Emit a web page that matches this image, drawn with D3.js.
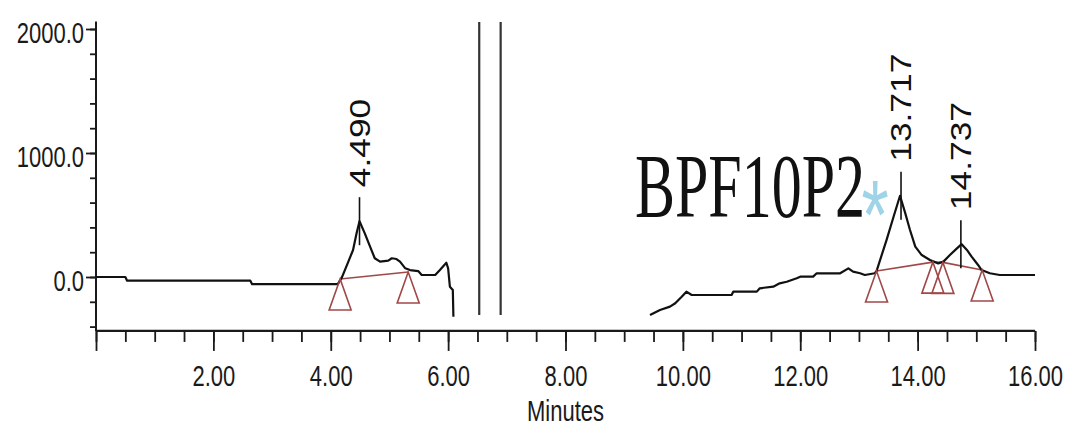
<!DOCTYPE html>
<html>
<head>
<meta charset="utf-8">
<script src="https://cdn.jsdelivr.net/npm/d3@7"></script>
<style>
  html, body { margin: 0; padding: 0; background: #fff; }
  svg { display: block; }
</style>
</head>
<body>
<svg id="chart" width="1068" height="430"></svg>
<script>
// ---- data ----
const trace1 = [
  [0, 0], [0.5, 0], [0.53, -30], [2.63, -30], [2.66, -58], [4.12, -58],
  [4.19, -3], [4.30, 124], [4.38, 218], [4.44, 352], [4.49, 450], [4.58, 352],
  [4.67, 245], [4.75, 151], [4.84, 124], [4.98, 132], [5.04, 151], [5.12, 145],
  [5.18, 124], [5.27, 70], [5.35, 56], [5.49, 48], [5.55, 16], [5.78, 16],
  [5.86, 56], [5.97, 115], [6.00, 70], [6.03, -78], [6.08, -105], [6.09, -320]
];
const trace2 = [
  [9.44, -306], [9.61, -266], [9.78, -239], [9.87, -212], [9.98, -159], [10.06, -118],
  [10.15, -145], [10.83, -145], [10.86, -118], [11.26, -118], [11.31, -91], [11.54, -78],
  [11.65, -51], [11.77, -38], [11.94, -10], [12.0, 3], [12.22, 3], [12.28, 30],
  [12.68, 30], [12.82, 70], [12.90, 43], [13.02, 30], [13.10, 16], [13.27, 30],
  [13.30, 48], [13.47, 298], [13.59, 486], [13.70, 655], [13.79, 513], [13.87, 379],
  [13.96, 245], [14.07, 177], [14.21, 137], [14.35, 110], [14.44, 124], [14.55, 177],
  [14.67, 231], [14.75, 265], [14.84, 218], [14.92, 164], [15.03, 97], [15.09, 56],
  [15.23, 30], [15.40, 16], [16.0, 16]
];
const peakTimes  = [4.490, 13.717, 14.737];
const peakValues = [450, 655, 265];
const peakLabels = ["4.490", "13.717", "14.737"];
const markerTimes  = [4.16, 5.32, 13.30, 14.26, 14.43, 15.10];
const markerValues = [-16, 40, 48, 120, 118, 56];
const baselineSegments = [[0, 1], [2, 3], [3, 4], [4, 5]];
const eventTimes = [6.53, 6.895];
const eventRange = [-306, 2056];
const xMajorTicks = [0, 2, 4, 6, 8, 10, 12, 14, 16];
const xTickLabels = ["", "2.00", "4.00", "6.00", "8.00", "10.00", "12.00", "14.00", "16.00"];
const yMajorTicks = [0, 1000, 2000];
const yTickLabels = ["0.0", "1000.0", "2000.0"];
const sampleName = "BPF10P2";
const xTitle = "Minutes";

// ---- layout ----
const svg = d3.select("#chart");
const x = d3.scaleLinear().domain([0, 16]).range([96, 1035]);
const y = d3.scaleLinear().domain([0, 2000]).range([277, 29]);
const yBottom = -435;
const ink = "#1a1a1a";
const red = "#a04848";

// y axis
const yAxisG = svg.append("g").attr("transform", `translate(${x(0)},0)`);
yAxisG.append("line")
  .attr("x1", 0).attr("x2", 0).attr("y1", y(2060)).attr("y2", y(yBottom))
  .attr("stroke", ink).attr("stroke-width", 2);
yAxisG.call(g => {
  const minor = d3.axisLeft(y).tickValues(d3.range(-400, 2001, 200)).tickSize(6).tickFormat("");
  g.append("g").call(minor);
  const major = d3.axisLeft(y).tickValues(yMajorTicks).tickSize(10)
    .tickFormat((d, i) => yTickLabels[i]);
  g.append("g").attr("class", "ymaj").call(major);
});
yAxisG.selectAll(".domain").remove();
yAxisG.selectAll(".tick line").attr("stroke", ink).attr("stroke-width", 1.8);
yAxisG.selectAll(".ymaj text")
  .attr("x", null).attr("y", null).attr("dy", null)
  .attr("transform", "translate(-12,13) scale(1,1.3)")
  .attr("text-anchor", "end")
  .attr("fill", ink)
  .style("font-family", "'Liberation Sans', Arial, sans-serif")
  .style("font-size", "22px");

// x axis
const xAxisG = svg.append("g").attr("transform", `translate(0,${y(yBottom)})`);
xAxisG.append("line")
  .attr("x1", x(0)).attr("x2", x(16)).attr("y1", 0).attr("y2", 0)
  .attr("stroke", ink).attr("stroke-width", 2.2);
xAxisG.append("g").call(d3.axisBottom(x).tickValues(d3.range(0, 16.01, 0.5)).tickSize(11).tickFormat(""));
xAxisG.append("g").attr("class", "xmaj")
  .call(d3.axisBottom(x).tickValues(xMajorTicks).tickSize(20).tickFormat((d, i) => xTickLabels[i]));
xAxisG.selectAll(".domain").remove();
xAxisG.selectAll(".tick line").attr("stroke", ink).attr("stroke-width", 1.8);
xAxisG.selectAll(".xmaj text")
  .attr("y", null).attr("dy", null)
  .attr("transform", "translate(0,55) scale(1,1.3)")
  .attr("fill", ink)
  .style("font-family", "'Liberation Sans', Arial, sans-serif")
  .style("font-size", "22px");

svg.append("text")
  .attr("transform", `translate(${(x(0) + x(16)) / 2},421) scale(1,1.3)`)
  .attr("text-anchor", "middle")
  .attr("fill", ink)
  .style("font-family", "'Liberation Sans', Arial, sans-serif")
  .style("font-size", "22px")
  .text(xTitle);

// event lines
svg.selectAll(".event").data(eventTimes).join("line")
  .attr("class", "event")
  .attr("x1", d => x(d)).attr("x2", d => x(d))
  .attr("y1", y(eventRange[1])).attr("y2", y(eventRange[0]))
  .attr("stroke", "#333").attr("stroke-width", 2.2);

// baselines (red)
svg.selectAll(".bl").data(baselineSegments).join("line")
  .attr("class", "bl")
  .attr("x1", d => x(markerTimes[d[0]])).attr("y1", d => y(markerValues[d[0]]))
  .attr("x2", d => x(markerTimes[d[1]])).attr("y2", d => y(markerValues[d[1]]))
  .attr("stroke", red).attr("stroke-width", 1.6);

// trace
const line = d3.line().x(d => x(d[0])).y(d => y(d[1]));
[trace1, trace2].forEach(tr => {
  svg.append("path").datum(tr).attr("d", line)
    .attr("fill", "none").attr("stroke", "#111").attr("stroke-width", 2.2)
    .attr("stroke-linejoin", "round");
});

// triangle markers
const triH = 31, triW = 11;
svg.selectAll(".tri").data(markerTimes).join("path")
  .attr("class", "tri")
  .attr("d", (d, i) => {
    const px = x(d), py = y(markerValues[i]);
    return `M${px},${py}L${px - triW},${py + triH}L${px + triW},${py + triH}Z`;
  })
  .attr("fill", "none").attr("stroke", red).attr("stroke-width", 1.6);

// peak ticks and labels
svg.selectAll(".ptick").data(peakTimes).join("line")
  .attr("class", "ptick")
  .attr("x1", d => x(d)).attr("x2", d => x(d))
  .attr("y1", (d, i) => y(peakValues[i]) - 24).attr("y2", (d, i) => y(peakValues[i]) + 24)
  .attr("stroke", "#111").attr("stroke-width", 1.6);

svg.selectAll(".plabel").data(peakTimes).join("text")
  .attr("class", "plabel")
  .attr("transform", (d, i) => `translate(${x(d)},${y(peakValues[i]) - 34}) rotate(-90) scale(1.22,1)`)
  .attr("dy", "0.358em")
  .attr("text-anchor", "start")
  .attr("fill", "#111")
  .style("font-family", "'Liberation Sans', Arial, sans-serif")
  .style("font-size", "29px")
  .text((d, i) => peakLabels[i]);

// sample name
svg.append("text")
  .attr("transform", "translate(635,217) scale(1,1.5)")
  .attr("fill", "#111")
  .style("font-family", "'Liberation Serif', 'Times New Roman', serif")
  .style("font-size", "60px")
  .text(sampleName);
svg.append("text")
  .attr("transform", "translate(875,249) scale(1,1.4)")
  .attr("text-anchor", "middle")
  .attr("fill", "#9fd3e7")
  .style("font-family", "'Liberation Sans', Arial, sans-serif")
  .style("font-size", "70px")
  .text("*");
</script>
</body>
</html>
